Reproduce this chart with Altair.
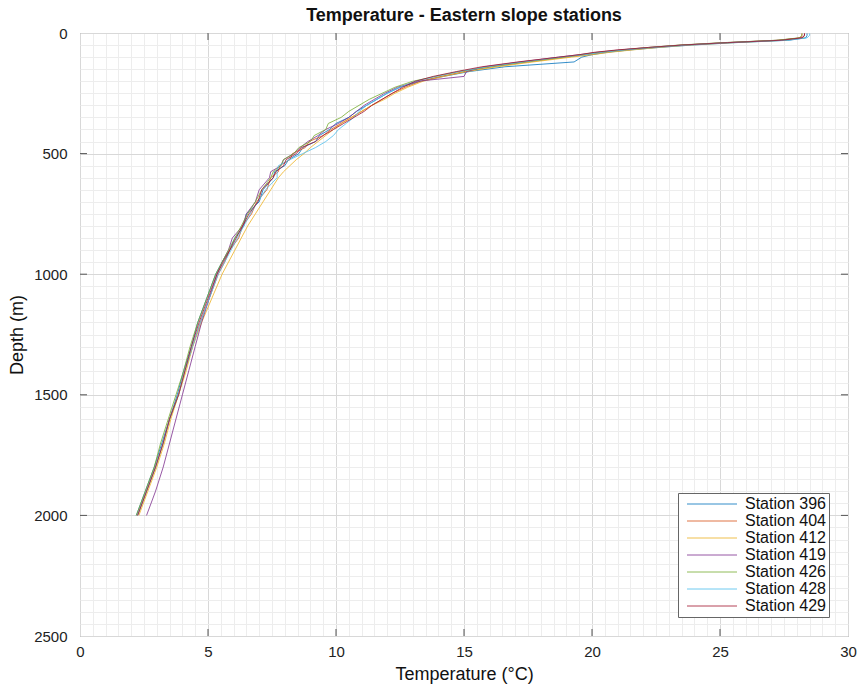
import altair as alt
import pandas as pd

stations = ["Station 396", "Station 404", "Station 412", "Station 419",
            "Station 426", "Station 428", "Station 429"]
colors = ["#0072BD", "#D95319", "#EDB120", "#7E2F8E", "#77AC30", "#4DBEEE", "#A2142F"]

depth = [2, 10, 20, 30, 40, 50, 60, 70, 80, 90,
         100, 120, 140, 160, 180, 200, 225, 250, 275, 300,
         325, 350, 375, 400, 425, 450, 475, 500, 525, 550,
         575, 600, 650, 700, 750, 800, 850, 900, 950, 1000,
         1100, 1200, 1300, 1400, 1500, 1600, 1700, 1800, 1900, 2000]

t396 = [28.4, 28.4, 28.35, 27.7, 25.6, 23.9, 22.6, 21.5, 20.6, 20.0,
        19.6, 19.3, 16.6, 15.2, 14.2, 13.3, 12.5, 12.0, 11.6, 11.2,
        10.8, 10.5, 10.0, 9.75, 9.35, 9.2, 8.7, 8.55, 8.15, 8.0,
        7.6, 7.55, 7.15, 7.0, 6.5, 6.4, 6.05, 5.85, 5.55, 5.3,
        4.95, 4.6, 4.35, 4.05, 3.8, 3.5, 3.2, 2.9, 2.55, 2.2]
t404 = [28.2, 28.2, 28.15, 27.3, 25.3, 23.6, 22.4, 21.4, 20.5, 19.8,
        19.0, 17.5, 16.1, 15.0, 14.1, 13.3, 12.7, 12.2, 11.8, 11.4,
        11.0, 10.6, 10.2, 9.8, 9.5, 8.95, 8.8, 8.3, 8.2, 7.8,
        7.75, 7.45, 7.3, 6.9, 6.7, 6.35, 6.2, 5.85, 5.65, 5.4,
        5.05, 4.7, 4.4, 4.1, 3.85, 3.5, 3.25, 2.95, 2.6, 2.25]
t412 = [28.3, 28.3, 28.25, 27.5, 25.5, 23.8, 22.6, 21.6, 20.7, 20.0,
        19.2, 17.7, 16.3, 15.1, 14.2, 13.4, 12.8, 12.3, 11.9, 11.4,
        11.0, 10.6, 10.2, 9.9, 9.6, 9.3, 9.0, 8.75, 8.45, 8.2,
        7.95, 7.75, 7.45, 7.15, 6.85, 6.55, 6.3, 6.05, 5.8, 5.55,
        5.15, 4.75, 4.4, 4.15, 3.85, 3.55, 3.3, 3.0, 2.65, 2.3]
t419 = [28.3, 28.3, 28.2, 27.3, 25.2, 23.5, 22.2, 21.1, 20.2, 19.5,
        18.7, 17.2, 15.8, 15.1, 15.0, 13.2, 12.4, 11.9, 11.5, 11.1,
        10.8, 10.5, 10.1, 9.6, 9.3, 8.9, 8.6, 8.35, 7.95, 7.85,
        7.45, 7.4, 7.0, 6.85, 6.5, 6.35, 5.95, 5.8, 5.55, 5.35,
        5.05, 4.75, 4.5, 4.25, 4.0, 3.75, 3.5, 3.25, 2.95, 2.6]
t426 = [28.2, 28.2, 28.1, 27.2, 25.1, 23.4, 22.2, 21.2, 20.3, 19.6,
        18.9, 17.4, 16.0, 14.8, 13.9, 13.0, 12.3, 11.8, 11.3, 10.9,
        10.5, 10.2, 9.7, 9.6, 9.15, 9.0, 8.55, 8.35, 7.95, 7.85,
        7.55, 7.45, 7.1, 6.85, 6.55, 6.3, 6.05, 5.8, 5.55, 5.3,
        4.95, 4.6, 4.3, 4.05, 3.75, 3.45, 3.15, 2.9, 2.55, 2.2]
t428 = [28.5, 28.5, 28.4, 27.6, 25.4, 23.7, 22.4, 21.3, 20.4, 19.7,
        18.8, 17.3, 15.9, 14.8, 13.9, 13.1, 12.5, 12.0, 11.6, 11.2,
        10.9, 10.7, 10.4, 10.1, 9.9, 9.6, 9.2, 8.7, 8.2, 7.75,
        7.7, 7.7, 7.25, 6.95, 6.65, 6.4, 6.15, 5.9, 5.65, 5.4,
        5.05, 4.7, 4.4, 4.1, 3.85, 3.5, 3.25, 2.95, 2.6, 2.25]
t429 = [28.3, 28.3, 28.2, 27.4, 25.3, 23.5, 22.2, 21.0, 20.1, 19.5,
        18.7, 17.1, 15.7, 14.7, 13.8, 13.1, 12.6, 12.2, 11.8, 11.4,
        11.1, 10.7, 10.3, 9.9, 9.5, 9.2, 8.65, 8.45, 8.05, 7.95,
        7.65, 7.55, 7.1, 6.95, 6.6, 6.35, 6.1, 5.85, 5.6, 5.35,
        5.0, 4.65, 4.35, 4.1, 3.85, 3.5, 3.25, 2.95, 2.6, 2.25]

series = [t396, t404, t412, t419, t426, t428, t429]

x_major_inner = [5, 10, 15, 20, 25]
y_major_inner = [500, 1000, 1500, 2000]
x_grid = [i * 0.5 for i in range(61)]
y_grid = [i * 50 for i in range(51)]

rows = []
for name, temps in zip(stations, series):
    for d, t in zip(depth, temps):
        rows.append({"station": name, "depth": d, "temp": t})
df = pd.DataFrame(rows)

W, H = 768, 603
FONT = "Liberation Sans"

xscale = alt.Scale(domain=[0, 30], nice=False, zero=False)
yscale = alt.Scale(domain=[0, 2500], reverse=True, nice=False, zero=False)

grid_color = alt.condition("datum.value % 5 === 0", alt.value("#d8d8d8"), alt.value("#ededed"))
grid_color_y = alt.condition("datum.value % 500 === 0", alt.value("#d8d8d8"), alt.value("#ededed"))

x_axis = alt.Axis(values=x_grid, grid=True, gridColor=grid_color, ticks=False,
                  domain=False, labelOverlap=False, labelFlush=False,
                  labelExpr="datum.value % 5 === 0 ? datum.value : ''",
                  labelFontSize=15, labelPadding=8, labelColor="#222",
                  title="Temperature (°C)", titleFontSize=18, titleFontWeight="normal",
                  titlePadding=6, titleColor="#111")
y_axis = alt.Axis(values=y_grid, grid=True, gridColor=grid_color_y, ticks=False,
                  domain=False, labelOverlap=False, labelFlush=False,
                  labelExpr="datum.value % 500 === 0 ? datum.value : ''",
                  labelFontSize=15, labelPadding=13, labelColor="#222",
                  title="Depth (m)", titleFontSize=18, titleFontWeight="normal",
                  titlePadding=7, titleColor="#111")

lines = alt.Chart(df).mark_line(strokeWidth=1, opacity=0.8).encode(
    x=alt.X("temp:Q", scale=xscale, axis=x_axis),
    y=alt.Y("depth:Q", scale=yscale, axis=y_axis),
    color=alt.Color("station:N", scale=alt.Scale(domain=stations, range=colors),
                    legend=alt.Legend(orient="none", legendX=598, legendY=460, title=None,
                                      symbolType="M-5,0H5", symbolSize=100, symbolStrokeWidth=1,
                                      symbolOffset=23, labelOffset=25,
                                      labelFontSize=16, labelFont=FONT, labelColor="#111",
                                      strokeColor="#666", fillColor="white", padding=3,
                                      rowPadding=1)),
    detail="station:N",
    order="depth:Q",
)

tick_col = "#555"
xt = pd.DataFrame({"temp": x_major_inner})
yt = pd.DataFrame({"depth": y_major_inner})
bot = alt.Chart(xt).mark_rule(color=tick_col).encode(x=alt.X("temp:Q", scale=xscale, axis=x_axis), y=alt.value(H), y2=alt.value(H - 7))
top = alt.Chart(xt).mark_rule(color=tick_col).encode(x=alt.X("temp:Q", scale=xscale, axis=x_axis), y=alt.value(0), y2=alt.value(7))
lef = alt.Chart(yt).mark_rule(color=tick_col).encode(y=alt.Y("depth:Q", scale=yscale, axis=y_axis), x=alt.value(0), x2=alt.value(7))
rig = alt.Chart(yt).mark_rule(color=tick_col).encode(y=alt.Y("depth:Q", scale=yscale, axis=y_axis), x=alt.value(W), x2=alt.value(W - 7))

chart = alt.layer(lines, bot, top, lef, rig).properties(
    width=W, height=H,
    title=alt.TitleParams("Temperature - Eastern slope stations", fontSize=18, fontWeight="bold",
                          font=FONT, color="#111", offset=1, anchor="middle"),
    autosize=alt.AutoSizeParams(type="none"),
    padding={"left": 80, "top": 33, "right": 11, "bottom": 50},
).configure(font=FONT).configure_view(stroke="#777", strokeWidth=1).configure_axis(
    labelFont=FONT, titleFont=FONT
)

chart.save("out.html", embed_options={"renderer": "svg", "actions": False})
